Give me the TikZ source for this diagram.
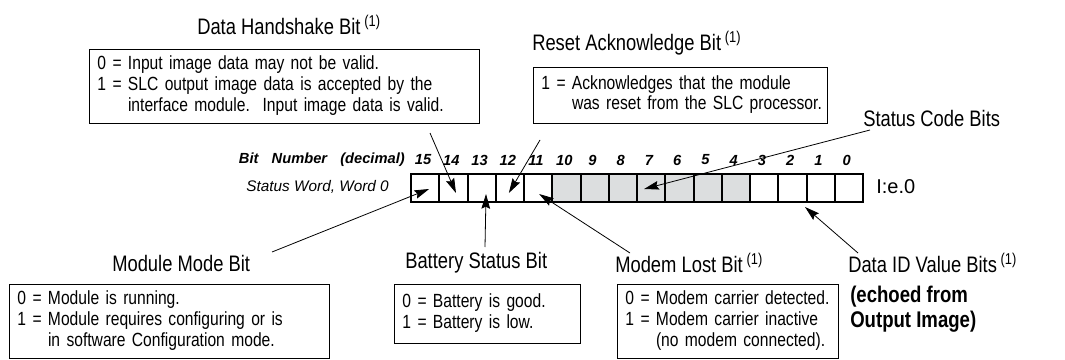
\documentclass[tikz,border=0pt]{standalone}
\usepackage{fontspec}
\setmainfont{Liberation Sans}
\newfontfamily\cond{Liberation Sans}[FakeStretch=0.82]
\usetikzlibrary{arrows.meta,calc}
\definecolor{gcell}{HTML}{DCDEDF}
\begin{document}
\begin{tikzpicture}[x=0.75pt,y=-0.75pt,
  title/.style={font=\cond\fontsize{16.8}{18}\selectfont, inner sep=0, anchor=west},
  desc/.style={draw, line width=0.7pt, font=\cond\fontsize{14.3}{15.5}\selectfont,
    align=left, anchor=north west, inner xsep=6pt, inner ysep=0pt},
  arr/.style={line width=0.6pt, -{Stealth[length=11pt,width=6.5pt,inset=1.5pt]}},
  bitcell/.style={draw, line width=1.5pt, minimum width=21.19pt, minimum height=21pt,
    inner sep=0, anchor=north west},
  bitnum/.style={font=\bfseries\itshape\fontsize{11}{12}\selectfont, inner sep=0},
  side/.style={font=\itshape\fontsize{11.5}{13}\selectfont, inner sep=0, anchor=east},
  echo/.style={font=\cond\bfseries\fontsize{17}{18.5}\selectfont, align=left, anchor=north west, inner sep=0},
]
\useasboundingbox (0,0) rectangle (1065,360);

% bit cells
\foreach \i/\c in {0/white,1/white,2/white,3/white,4/white,5/gcell,6/gcell,7/gcell,8/gcell,9/gcell,10/gcell,11/gcell,12/white,13/white,14/white,15/white} {
  \pgfmathsetmacro\xx{410+28.25*\i}
  \pgfmathtruncatemacro\n{15-\i}
  \node[bitcell, fill=\c] (b\i) at (\xx,173) {};
  \node[bitnum] (n\i) at (\xx+13,160) {\n};
}
\node[bitnum, anchor=east] (bitlbl) at (405,160) {Bit\hspace{0.9em}Number\hspace{0.9em}(decimal)};
\node[side] (swlbl) at (389,187) {Status Word, Word 0};
\node[font=\fontsize{15}{17}\selectfont, inner sep=0, anchor=west] (addr) at (876,187) {I:e.0};

% top titles and boxes
\node[title] (tdh) at (197,25) {Data Handshake Bit\,\textsuperscript{(1)}};
\node[desc, minimum width=292.5pt, text width=280.5pt, minimum height=55.5pt] (bdh) at (89,49) {%
\begin{tabular}{@{}l@{ }l@{}}
0 & = Input image data may not be valid.\\
1 & = SLC output image data is accepted by the\\
  & \phantom{= }interface module.\ \ Input image data is valid.
\end{tabular}};

\node[title] (tra) at (532,43) {Reset Acknowledge Bit\,\textsuperscript{(1)}};
\node[desc, minimum width=220.5pt, text width=208.5pt, minimum height=42pt] (bra) at (533,67) {%
\begin{tabular}{@{}l@{ }l@{}}
1 & = Acknowledges that the module\\
  & \phantom{= }was reset from the SLC processor.
\end{tabular}};

\node[title] (tsc) at (863,118) {Status Code Bits};

% bottom titles and boxes
\node[title] (tmm) at (112,263) {Module Mode Bit};
\node[desc, minimum width=240pt, text width=228pt, minimum height=55.5pt] (bmm) at (9,284) {%
\begin{tabular}{@{}l@{ }l@{}}
0 & = Module is running.\\
1 & = Module requires configuring or is\\
  & \phantom{= }in software Configuration mode.
\end{tabular}};

\node[title] (tbs) at (405,263) {Battery Status Bit};
\node[desc, minimum width=139.5pt, text width=127.5pt, minimum height=44.25pt] (bbs) at (394,284) {%
\begin{tabular}{@{}l@{ }l@{}}
0 & = Battery is good.\\
1 & = Battery is low.
\end{tabular}};

\node[title] (tml) at (615,263) {Modem Lost Bit\,\textsuperscript{(1)}};
\node[desc, minimum width=165.75pt, text width=153.75pt, minimum height=55.5pt] (bml) at (617,284) {%
\begin{tabular}{@{}l@{ }l@{}}
0 & = Modem carrier detected.\\
1 & = Modem carrier inactive\\
  & \phantom{= }(no modem connected).
\end{tabular}};

\node[title] (tdi) at (848,263) {Data ID Value Bits\,\textsuperscript{(1)}};
\node[echo] (echo) at (850,286) {(echoed from\\Output Image)};

% arrow start points
\coordinate (sdh) at (430,133);
\coordinate (sra) at (540,140);
\coordinate (ssc) at (870,130);
\coordinate (smm) at (272,252);
\coordinate (sbs) at (485,247);
\coordinate (sml) at (630,253);
\coordinate (sdi) at (858,253);

\draw[arr] (sdh) -- ($(b1.center)+(2.6,5)$);
\draw[arr] (sra) -- ($(b3.center)+(-1,5)$);
\draw[arr] (ssc) -- ($(b8.center)+(-7,1)$);
\draw[arr] (smm) -- ($(b0.center)+(4,1)$);
\draw[arr] (sbs) -- ($(b2.center)+(4.4,6)$);
\draw[arr] (sml) -- ($(b4.center)+(1,6)$);
\draw[arr] (sdi) -- ($(b13.south east)+(-2.5,4)$);
\end{tikzpicture}
\end{document}
